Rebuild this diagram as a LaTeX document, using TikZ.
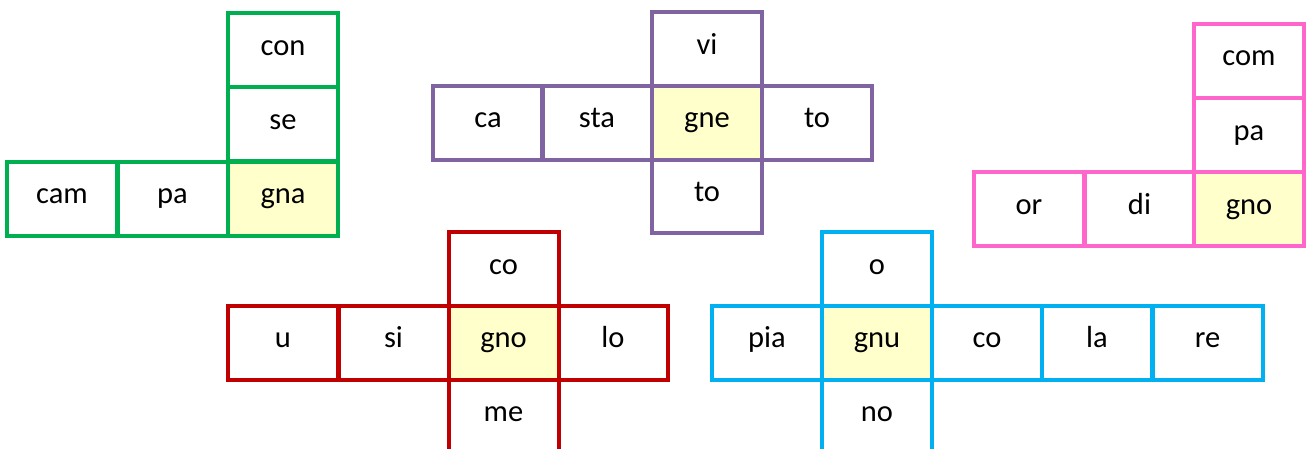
\documentclass[tikz,border=0pt]{standalone}
\usepackage{fontspec}
\setmainfont{Carlito}
\definecolor{cgreen}{HTML}{00B050}
\definecolor{cpurple}{HTML}{8064A2}
\definecolor{cpink}{HTML}{FF66CC}
\definecolor{cred}{HTML}{C00000}
\definecolor{cblue}{HTML}{00B0F0}
\definecolor{hilite}{HTML}{FFFFCC}
\tikzset{
  cell/.style={draw=#1, line width=4pt, rectangle, minimum width=110pt, minimum height=74pt,
    inner sep=0pt, text height=16pt, text depth=6pt, font=\fontsize{30.5}{36}\selectfont},
  key/.style={fill=hilite}
}
\begin{document}
\begin{tikzpicture}[x=1pt,y=-1pt]
\useasboundingbox (0,0) rectangle (1307,448);
\clip (0,0) rectangle (1307,448);
% green
\node[cell=cgreen] (g1) at (62,198.5) {cam};
\node[cell=cgreen] (g2) at (172.5,198.5) {pa};
\node[cell=cgreen] (g3) at (283,50) {con};
\node[cell=cgreen] (g4) at (283,124) {se};
\node[cell=cgreen,key] (g5) at (283,198.5) {gna};
% purple
\node[cell=cpurple] (p1) at (488,122.5) {ca};
\node[cell=cpurple] (p2) at (597,122.5) {sta};
\node[cell=cpurple] (p3) at (707,49) {vi};
\node[cell=cpurple] (p4) at (707,196) {to};
\node[cell=cpurple] (p6) at (817,122.5) {to};
\node[cell=cpurple,key] (p5) at (707,122.5) {gne};
% pink
\node[cell=cpink] (k1) at (1029,209) {or};
\node[cell=cpink] (k2) at (1139.5,209) {di};
\node[cell=cpink] (k3) at (1249,60.5) {com};
\node[cell=cpink] (k4) at (1249,135) {pa};
\node[cell=cpink,key] (k5) at (1249,209) {gno};
% red
\node[cell=cred] (r1) at (283,342.5) {u};
\node[cell=cred] (r2) at (393.5,342.5) {si};
\node[cell=cred] (r3) at (503.5,269) {co};
\node[cell=cred] (r4) at (503.5,416) {me};
\node[cell=cred] (r6) at (613,342.5) {lo};
\node[cell=cred,key] (r5) at (503.5,342.5) {gno};
% blue
\node[cell=cblue] (b1) at (767,342.5) {pia};
\node[cell=cblue] (b2) at (877,269) {o};
\node[cell=cblue] (b3) at (877,416) {no};
\node[cell=cblue] (b5) at (987,342.5) {co};
\node[cell=cblue] (b6) at (1097,342.5) {la};
\node[cell=cblue] (b7) at (1207.5,342.5) {re};
\node[cell=cblue,key] (b4) at (877,342.5) {gnu};
\end{tikzpicture}
\end{document}
